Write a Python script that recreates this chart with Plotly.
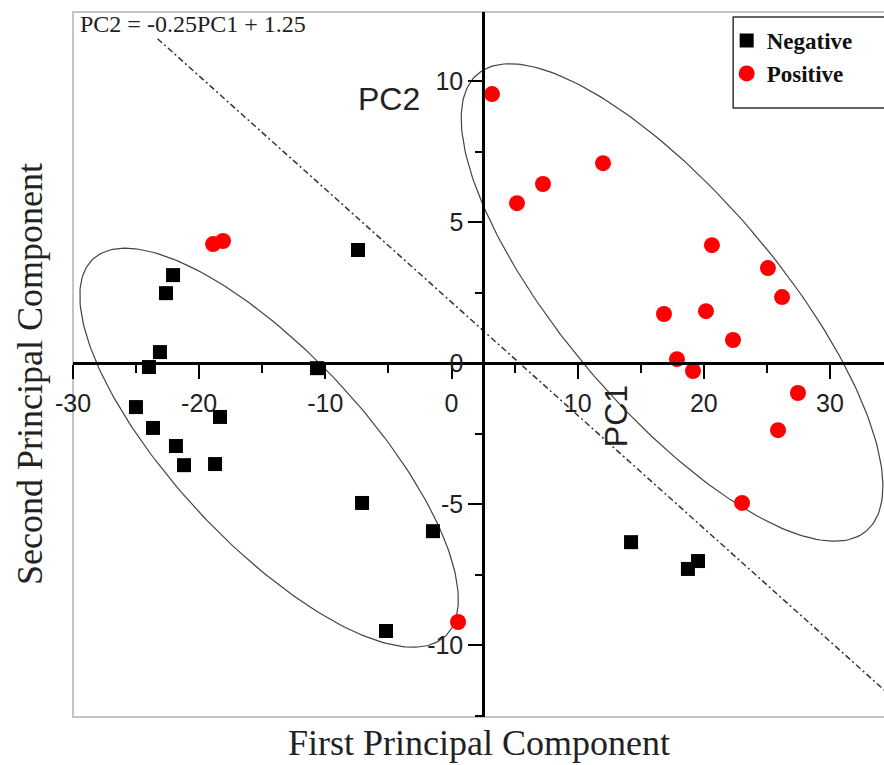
import numpy as np
import plotly.graph_objects as go

# ---- data ----
neg_pc1 = [-7.41, -22.07, -22.63, -23.11, -23.98, -10.66, -25.01, -18.35, -23.66,
           -21.84, -21.20, -18.74, -7.09, -1.47, -5.19, 14.23, 18.74, 19.54]
neg_pc2 = [4.01, 3.12, 2.48, 0.39, -0.14, -0.18, -1.56, -1.91, -2.30,
           -2.94, -3.62, -3.58, -4.96, -5.96, -9.50, -6.35, -7.30, -7.02]

pos_pc1 = [-18.90, -18.11, 3.21, 5.19, 7.25, 12.01, 20.64, 25.08, 26.20,
           16.84, 20.17, 22.31, 17.87, 19.14, 27.46, 25.88, 23.03, 0.52]
pos_pc2 = [4.22, 4.33, 9.54, 5.67, 6.35, 7.09, 4.18, 3.37, 2.34,
           1.74, 1.84, 0.82, 0.14, -0.28, -1.06, -2.38, -4.96, -9.18]

# discriminant line (as drawn)
boundary_slope = -0.401
boundary_intercept = 2.16
boundary_pc1 = [-23.3, 34.6]

# confidence ellipses: centre and two semi-axis vectors (data units)
left_center = [-14.46, -3.00]
left_axis_u = [13.95, -6.69]
left_axis_v = [-5.51, -2.30]
right_center = [17.48, 2.15]
right_axis_u = [15.41, -8.10]
right_axis_v = [-6.46, -2.46]

x_range = [-30, 34.28]
y_range = [-12.55, 12.45]
x_tickvals = [-30, -20, -10, 0, 10, 20, 30]
y_tickvals = [-10, -5, 0, 5, 10]

SERIF = "Liberation Serif, Times New Roman, serif"
SANS = "Liberation Sans, Arial, sans-serif"


def ellipse(center, u, v, n=240):
    t = np.linspace(0, 2 * np.pi, n)
    xs = center[0] + u[0] * np.cos(t) + v[0] * np.sin(t)
    ys = center[1] + u[1] * np.cos(t) + v[1] * np.sin(t)
    return xs, ys


fig = go.Figure()

for c, u, v in [(left_center, left_axis_u, left_axis_v),
                (right_center, right_axis_u, right_axis_v)]:
    ex, ey = ellipse(c, u, v)
    fig.add_trace(go.Scatter(x=ex, y=ey, mode="lines", showlegend=False,
                             hoverinfo="skip",
                             line=dict(color="#444444", width=1.2)))

bx = np.array(boundary_pc1)
by = boundary_slope * bx + boundary_intercept
fig.add_trace(go.Scatter(x=bx, y=by, mode="lines", showlegend=False,
                         hoverinfo="skip",
                         line=dict(color="#333333", width=1.5,
                                   dash="6px,3px,2px,3px")))

fig.add_trace(go.Scatter(x=neg_pc1, y=neg_pc2, mode="markers", name="Negative",
                         marker=dict(symbol="square", size=14, color="black")))
fig.add_trace(go.Scatter(x=pos_pc1, y=pos_pc2, mode="markers", name="Positive",
                         marker=dict(symbol="circle", size=16, color="#ff0000")))

y_axis_pos = (2.5 - x_range[0]) / (x_range[1] - x_range[0])
x_axis_pos = (0 - y_range[0]) / (y_range[1] - y_range[0])

fig.update_layout(
    width=884, height=765,
    margin=dict(l=73, r=0, t=12, b=48),
    plot_bgcolor="white", paper_bgcolor="white",
    xaxis=dict(range=x_range, showgrid=False, zeroline=False,
               showline=True, linecolor="black", linewidth=2.5,
               anchor="free", position=x_axis_pos,
               ticks="outside", ticklen=14, tickwidth=2, tickcolor="black",
               tickvals=x_tickvals, ticktext=[str(v) for v in x_tickvals],
               ticklabelstandoff=3,
               tickfont=dict(family=SANS, size=25, color="#222222"),
               minor=dict(dtick=5, tick0=0, ticks="outside", ticklen=8,
                          tickwidth=2, tickcolor="black", showgrid=False)),
    yaxis=dict(range=y_range, showgrid=False, zeroline=False,
               showline=True, linecolor="black", linewidth=2.5,
               anchor="free", position=y_axis_pos,
               ticks="outside", ticklen=14, tickwidth=2, tickcolor="black",
               tickvals=y_tickvals, ticktext=[str(v) for v in y_tickvals],
               ticklabelstandoff=0,
               tickfont=dict(family=SANS, size=25, color="#222222"),
               minor=dict(dtick=2.5, tick0=0, ticks="outside", ticklen=7,
                          tickwidth=2, tickcolor="black", showgrid=False)),
    legend=dict(x=0.806, y=0.99, xanchor="left", yanchor="top",
                bgcolor="rgba(0,0,0,0)", borderwidth=0,
                font=dict(family=SERIF, size=23, color="#111111", weight="bold"),
                itemsizing="trace", tracegroupgap=0),
    shapes=[
        dict(type="rect", xref="paper", yref="paper", x0=0, x1=1.05, y0=0, y1=1,
             line=dict(color="#c4c4c4", width=2), layer="below"),
        dict(type="rect", xref="paper", yref="paper", x0=0.814, x1=1.05,
             y0=0.864, y1=0.993, line=dict(color="#333333", width=1.5),
             fillcolor="white", layer="below"),
    ],
    annotations=[
        dict(text="PC2 = -0.25PC1 + 1.25", xref="paper", yref="paper",
             x=0.006, y=0.983, xanchor="left", yanchor="middle", showarrow=False,
             font=dict(family=SERIF, size=24, color="#222222")),
        dict(text="PC2", xref="x", yref="y", x=-4.95, y=9.36, showarrow=False,
             xanchor="center", yanchor="middle",
             font=dict(family=SANS, size=32, color="#222222")),
        dict(text="PC1", xref="x", yref="y", x=13.04, y=-1.88, showarrow=False,
             textangle=-90, xanchor="center", yanchor="middle",
             font=dict(family=SANS, size=32, color="#222222")),
        dict(text="First Principal Component", xref="paper", yref="paper",
             x=0.5006, y=-0.037, xanchor="center", yanchor="middle",
             showarrow=False, font=dict(family=SERIF, size=36, color="#222222")),
        dict(text="Second Principal Component", xref="paper", yref="paper",
             x=-0.053, y=0.4865, xanchor="center", yanchor="middle",
             textangle=-90, showarrow=False,
             font=dict(family=SERIF, size=36, color="#222222")),
    ],
)

fig.write_html("out.html")
